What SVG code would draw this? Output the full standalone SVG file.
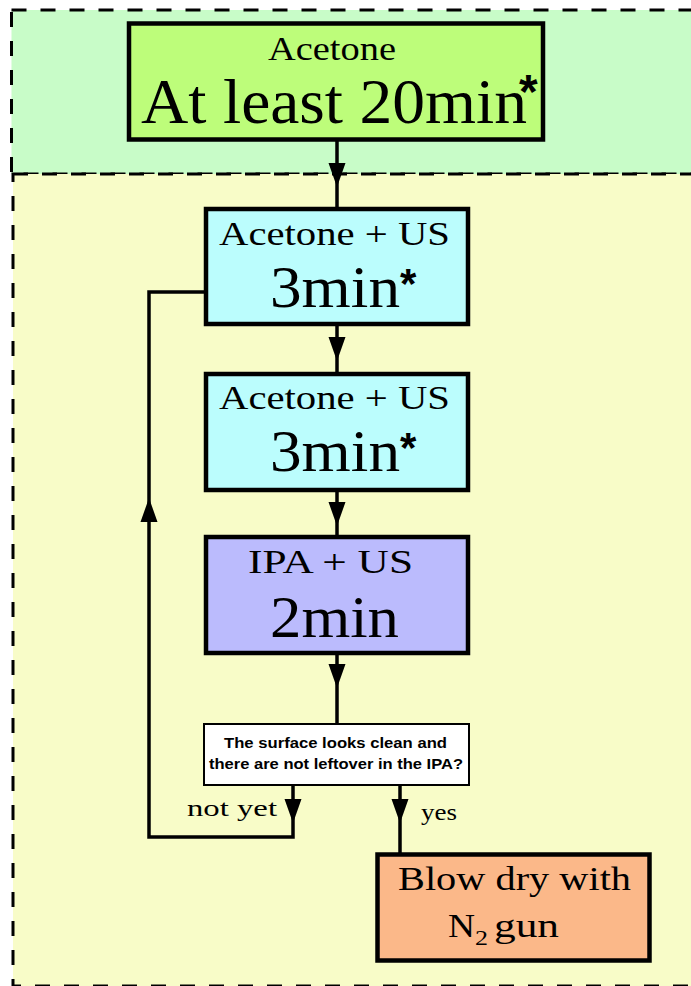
<svg xmlns="http://www.w3.org/2000/svg" xmlns:xlink="http://www.w3.org/1999/xlink" width="691" height="986" viewBox="0 0 691 986">
<style>
.region{stroke:#000;stroke-width:3;stroke-dasharray:15 14}
.box{stroke:#000;stroke-width:4.5}
.conn{fill:none;stroke:#000;stroke-width:3.5}
.ah{fill:#000}
.serif{font-family:"Liberation Serif","DejaVu Serif",serif;fill:#000}
.sans{font-family:"Liberation Sans",Arial,sans-serif;fill:#000}
.star{font-family:"Liberation Sans",Arial,sans-serif;font-weight:bold;fill:#000}
</style>
<defs>
<polygon id="ah" points="0,0 -8.5,-24 8.5,-24"/>
</defs>
<rect width="691" height="986" fill="#fff"/>
<g id="region-acetone">
<rect class="region" x="11.5" y="10" width="700" height="164" fill="#c8fcc8"/>
</g>
<g id="region-us">
<rect class="region" x="13" y="174" width="700" height="812" fill="#f8fcc8"/>
</g>
<g id="connectors">
<path class="conn" d="M337 139V209"/>
<use href="#ah" x="337" y="187" class="ah"/>
<path class="conn" d="M337 324V374"/>
<use href="#ah" x="337" y="361" class="ah"/>
<path class="conn" d="M337 490V537"/>
<use href="#ah" x="337" y="526" class="ah"/>
<path class="conn" d="M337 655V724"/>
<use href="#ah" x="337" y="688" class="ah"/>
<path class="conn" d="M293 785V837H149V292H206"/>
<use href="#ah" x="293" y="823" class="ah"/>
<use href="#ah" transform="translate(149 498) rotate(180)" class="ah"/>
<path class="conn" d="M400 785V854"/>
<use href="#ah" x="400" y="823" class="ah"/>
<text class="serif" x="187" y="816" font-size="24" textLength="90" lengthAdjust="spacingAndGlyphs">not yet</text>
<text class="serif" x="421" y="820" font-size="24" textLength="36" lengthAdjust="spacingAndGlyphs">yes</text>
</g>
<g id="node-acetone">
<rect class="box" x="129" y="23.5" width="414" height="116" fill="#bdfd7a" stroke-width="5"/>
<text class="serif" x="268" y="60" font-size="34" textLength="128" lengthAdjust="spacingAndGlyphs">Acetone</text>
<text class="serif" x="141" y="123" font-size="64" textLength="386" lengthAdjust="spacingAndGlyphs">At least 20min</text>
<text class="star" x="519" y="108" font-size="48">*</text>
</g>
<g id="node-us1">
<rect class="box" x="206" y="209" width="262" height="115" fill="#bbfdfd"/>
<text class="serif" x="219" y="245" font-size="34" textLength="231" lengthAdjust="spacingAndGlyphs">Acetone + US</text>
<text class="serif" x="270" y="307" font-size="60" textLength="130" lengthAdjust="spacingAndGlyphs">3min</text>
<text class="star" x="400" y="298" font-size="42">*</text>
</g>
<g id="node-us2">
<rect class="box" x="206" y="374" width="262" height="116" fill="#bbfdfd"/>
<text class="serif" x="219" y="409" font-size="34" textLength="231" lengthAdjust="spacingAndGlyphs">Acetone + US</text>
<text class="serif" x="270" y="471" font-size="60" textLength="130" lengthAdjust="spacingAndGlyphs">3min</text>
<text class="star" x="400" y="462" font-size="42">*</text>
</g>
<g id="node-ipa">
<rect class="box" x="206" y="537" width="262" height="116" fill="#bbbbfd"/>
<text class="serif" x="248" y="573" font-size="34" textLength="165" lengthAdjust="spacingAndGlyphs">IPA + US</text>
<text class="serif" x="270" y="637" font-size="60" textLength="129" lengthAdjust="spacingAndGlyphs">2min</text>
</g>
<g id="node-check">
<rect x="204" y="724" width="265" height="61" fill="#fff" stroke="#000" stroke-width="2"/>
<text class="sans" x="224" y="748" font-size="15" font-weight="bold" textLength="223" lengthAdjust="spacingAndGlyphs">The surface looks clean and</text>
<text class="sans" x="209" y="769" font-size="15" font-weight="bold" textLength="254" lengthAdjust="spacingAndGlyphs">there are not leftover in the IPA?</text>
</g>
<g id="node-dry">
<rect class="box" x="377.5" y="854.5" width="272" height="106" fill="#fbb889" stroke-width="5"/>
<text class="serif" x="398" y="890" font-size="34" textLength="233" lengthAdjust="spacingAndGlyphs">Blow dry with</text>
<text class="serif" x="448" y="937" font-size="34" textLength="27" lengthAdjust="spacingAndGlyphs">N</text>
<text class="serif" x="475" y="945" font-size="22" textLength="13" lengthAdjust="spacingAndGlyphs">2</text>
<text class="serif" x="494" y="937" font-size="34" textLength="65" lengthAdjust="spacingAndGlyphs">gun</text>
</g>
</svg>
